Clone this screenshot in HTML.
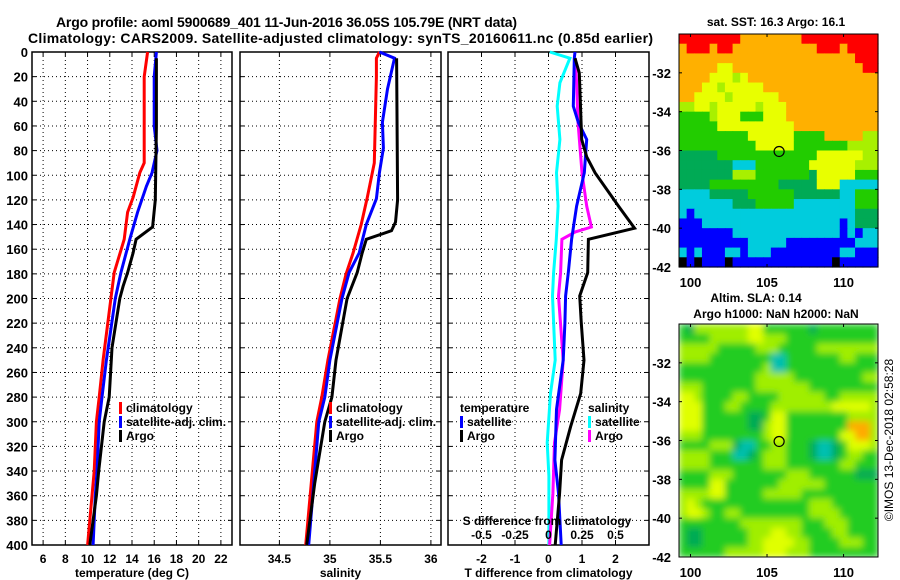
<!DOCTYPE html>
<html><head><meta charset="utf-8"><style>
body{margin:0;background:#fff;}
svg{display:block;font-family:"Liberation Sans",Arial,sans-serif;font-weight:bold;}
</style></head><body>
<svg id="c" width="900" height="580" viewBox="0 0 900 580">
<defs>
<filter id="blur" x="0" y="0" width="1" height="1"><feGaussianBlur stdDeviation="3.5" edgeMode="duplicate"/></filter>
<clipPath id="slaclip"><rect x="679" y="324" width="199" height="233"/></clipPath>
</defs>
</svg>
<script>
// ---------- data ----------
const depthTicks=[0,20,40,60,80,100,120,140,160,180,200,220,240,260,280,300,320,340,360,380,400];
const tempTicks=[6,8,10,12,14,16,18,20,22];
const salTicks=[34.5,35,35.5,36];
const tdiffTicks=[-2,-1,0,1,2];
const sdiffTicks=[-0.5,-0.25,0,0.25,0.5];
const sdiffLabels=["-0.5","-0.25","0","0.25","0.5"];
// temperature profiles [depth, value]
const tClimD=[0,20,60,90,98,118,130,152,179,200,250,280,300,340,360,400];
const tClimV=[15.4,15.1,15.1,15.1,14.7,14.1,13.6,13.3,12.4,12.1,11.4,11.05,10.8,10.6,10.4,10.0];
const tSatD=[0,20,60,80,98,109,130,152,179,200,250,280,300,340,360,400];
const tSatV=[16.2,16.0,16.0,16.25,15.8,15.3,14.5,13.8,13.0,12.5,11.7,11.3,11.05,10.85,10.7,10.5];
const tArgoD=[5,60,120,142,152,163,179,190,200,240,280,300,340,360,400];
const tArgoV=[16.2,16.2,16.1,15.85,14.37,14.1,13.6,13.2,12.9,12.2,11.95,11.5,11.0,10.8,10.2];
// salinity profiles
const sClimD=[0,5,20,90,118,140,163,180,200,250,280,300,400];
const sClimV=[35.49,35.46,35.46,35.44,35.37,35.31,35.23,35.16,35.1,34.98,34.92,34.87,34.76];
const sSatD=[0,5,30,57,78,98,119,140,163,179,200,250,280,300,400];
const sSatV=[35.49,35.64,35.57,35.52,35.53,35.49,35.46,35.36,35.29,35.19,35.12,35.0,34.95,34.89,34.79];
const sArgoD=[5,120,138,145,152,163,179,200,250,280,300,350,400];
const sArgoV=[35.66,35.67,35.65,35.61,35.36,35.32,35.27,35.17,35.06,35.02,34.95,34.85,34.77];
// differences (T diff in deg C, S diff in psu)
const dTSatD=[0,5,44,57,71,98,125,152,179,198,220,250,290,331,358,400];
const dTSatV=[0.79,0.77,0.74,0.89,1.14,1.07,0.84,0.69,0.59,0.51,0.49,0.44,0.24,0.19,0.3,0.38];
const dTArgoD=[5,17,71,85,98,125,143,152,179,198,220,250,277,304,331,358,400];
const dTArgoV=[0.79,0.92,0.99,1.14,1.39,2.09,2.57,1.19,1.17,0.93,0.98,1.06,0.96,0.66,0.39,0.33,0.2];
const dSSatD=[0,5,25,44,71,98,125,152,179,198,250,277,317,344,400];
const dSSatV=[0.01,0.16,0.085,0.065,0.085,0.06,0.072,0.058,0.038,0.03,0.05,0.015,-0.01,0.003,0.003];
const dSArgoD=[5,25,57,98,125,142,146,152,179,198,250,290,317,358,400];
const dSArgoV=[0.2,0.21,0.22,0.25,0.285,0.32,0.2,0.1,0.09,0.075,0.11,0.083,0.045,0.033,0.008];
// maps
const latTicks=[-32,-34,-36,-38,-40,-42];
const lonTicks=[100,105,110];
const sstRows=[
"RRRRRRRROOOOOOOORRRRRRRRRR","ORRRORROOOOOOOOOOORRRORRRR","OOOOOOOOOOOOOOOOOOOOOOORRR","OOOOOYYOOOOOOOOOOOOOOOOORR",
"OOOOYYYLYOOOOOOOOOOOOOOOOO","OOOYYLYYYYYOOOOOOOOOOOOOOO","OOYYYYLYYYYYYOOOOOOOOOOOOO","LLYYLYYYYYLYYYOOOOOOOOOOOO",
"GGGGLYYYGGGYYYOOOOOOOOOOOO","GGGGGYYYYYYYYYYOOOOOOOOOOO","GGGGGGGGGYYYYYYGGGGOOOOOLL","GGGGGGGGGGYYYYYGGGGGGGLLLL",
"DDDDDGGGGGGGGGGGGGYYYYYYLL","DDDDDDDCCCGGGGGGGYYYYYYLLL","DDDDDDDLLLGGGGGGGDYYYYYGGG","DDDDGGGGGGGGGDDDDDYYYCCCCC",
"CCCCDDDDDGGGGGGDDDDDDCCGGG","CCCCCCCDDDGGGGGCCCCCCCCGGG","CBCCCCCCCCCCCCCCCCCCCCCDDD","BBBCCCCCCCCCCCCCCCCCCBCDDD",
"BBBBBBBCCCCCCCCCCCCCCBCBCC","BBBBBBBBBCCCCCBBBBBBBBBCCC","CBCBBBCCBCCCBBBBBBBBBCCBBB","KBKBBBKBBBBBBBBBBBBBKBBBBB"];
const slaRows=[
"GDLLLLLLLYYGGGGGGDGGGGGGGG","GGGGLLLLLYYLLLGGGGGGGGGGGG","LLLLLGGGGGLLLGGGGGLLLLLLLL","LLLLGGGGGGGGTTGGGGGGGLLGGG",
"GGGGGGGGGGGLTTGGGGGGGGGGGG","GGGGGGGGGGLLLLLGGGGGGGGGLL","LLLGGGGGGGLLLLLLLGGGGGGGGG","YYLGGGGLLGGGGLLLLLLGGLLLLL",
"YYYGGGLLGGGGLLLLLLLLYYYYYL","YYYGGGGGGDDGYYGGGGGGGGLLLL","YYYGGGGGGDDLYYGGGGGGGGOOOL","LLLGGGGGGGGLYYGGGGGGGYYOOL",
"GGGGLLLDTTGGLLGGGDTTDGYYYL","LLLLGGGTTDGLLLGGGDTTDGLLGG","LLLLGGGGGGGLLLGGGGGGGLLGGG","GGGGLLLGGGGGGGLLLGGGGGGDDD",
"GGGGYYGGGGGGGLLLLLLGGGGGGG","LLLLYYGGGGGLLLLLGGGGGGGGGG","LYLGGGGGGGGGGGGGGLLLGGGGGG","LYYLGGLLGGGGGGGGGLLLLGGGGG",
"GGGGGGGGLLLLLLLLGGGLLLGGGG","GDDGGGGGGLLLYYLLGGGGLLGGGG","GDDGGGGGGLLYYYYLLGGGGLLLGG","GGGGGGLLLLLYYYLLLGGGGGGGGG"];
const sstColors={R:"#ff0000",O:"#ffb000",Y:"#e8ff00",L:"#a8f000",G:"#22cc00",D:"#00aa55",C:"#00ccdd",B:"#0000ff",K:"#000000"};
const slaColors={Y:"#e0ff00",L:"#a0ee00",G:"#22cc22",D:"#00aa55",T:"#00c0b0",O:"#ffaa00"};
const argoLon=105.79, argoLat=-36.05;

// ---------- drawing ----------
const NS="http://www.w3.org/2000/svg";
const svg=document.getElementById("c");
function mk(tag,attrs,parent){const e=document.createElementNS(NS,tag);for(const k in attrs)e.setAttribute(k,attrs[k]);(parent||svg).appendChild(e);return e;}
function txt(x,y,s,size,anchor,parent){const t=mk("text",{x:x,y:y,"font-size":size,"text-anchor":anchor||"middle",fill:"#000"},parent);t.textContent=s;return t;}

const PT=52,PB=545;
const yD=d=>PT+d/400*(PB-PT);

function panel(name,x0,x1,vmin,vmax,ticks,labels,title,showDepth){
  const g=mk("g",{});
  
  
  const xs=v=>x0+(v-vmin)/(vmax-vmin)*(x1-x0);
  depthTicks.forEach(d=>{
    const l=mk("line",{x1:x0,x2:x1,y1:yD(d),y2:yD(d),stroke:"#000","stroke-width":1,"stroke-dasharray":"1,3"},g);
    
    
    mk("line",{x1:x0,x2:x0+4,y1:yD(d),y2:yD(d),stroke:"#000"},g);
    mk("line",{x1:x1-4,x2:x1,y1:yD(d),y2:yD(d),stroke:"#000"},g);
    if(showDepth){const t=txt(x0-4,yD(d)+5,String(d),13,"end",g);
      
      }
  });
  ticks.forEach((v,i)=>{
    const l=mk("line",{x1:xs(v),x2:xs(v),y1:PT,y2:PB,stroke:"#000","stroke-dasharray":"1,3"},g);
    
    
    mk("line",{x1:xs(v),x2:xs(v),y1:PB-4,y2:PB,stroke:"#000"},g);
    mk("line",{x1:xs(v),x2:xs(v),y1:PT,y2:PT+4,stroke:"#000"},g);
    const t=txt(xs(v),PB+18,labels[i],12,"middle",g);
    
    
  });
  const f=mk("rect",{x:x0,y:PT,width:x1-x0,height:PB-PT,fill:"none",stroke:"#000","stroke-width":1.5},g);
  
  
  const t=txt((x0+x1)/2,PB+32,title,12,"middle",g);
  
  
  return {g,xs};
}
function line(p,name,D,V,color,scale){
  const pts=D.map((d,i)=>p.xs(V[i]*(scale||1)).toFixed(1)+","+yD(d).toFixed(1)).join(" ");
  const l=mk("polyline",{points:pts,fill:"none",stroke:color,"stroke-width":3},p.g);
  
  
}
function legend(p,name,x,y,items){
  const g=mk("g",{},p.g);
  
  
  items.forEach((it,i)=>{
    if(it[1]) mk("rect",{x:x,y:y+i*14-10,width:3,height:12,fill:it[1]},g);
    const t=txt(x+(it[1]?7:0),y+i*14,it[0],12,"start",g);
    
    
  });
}

const p1=panel("temperature-panel",32,232,5,23,tempTicks,tempTicks.map(String),"temperature (deg C)",true);
line(p1,"temp-climatology-line",tClimD,tClimV,"#ff0000");
line(p1,"temp-satellite-line",tSatD,tSatV,"#0000ff");
line(p1,"temp-argo-line",tArgoD,tArgoV,"#000000");
legend(p1,"temp-legend",119,412,[["climatology","#ff0000"],["satellite-adj. clim.","#0000ff"],["Argo","#000"]]);

const p2=panel("salinity-panel",240,441,34.11,36.1,salTicks,salTicks.map(String),"salinity",false);
line(p2,"sal-climatology-line",sClimD,sClimV,"#ff0000");
line(p2,"sal-satellite-line",sSatD,sSatV,"#0000ff");
line(p2,"sal-argo-line",sArgoD,sArgoV,"#000000");
legend(p2,"sal-legend",329,412,[["climatology","#ff0000"],["satellite-adj. clim.","#0000ff"],["Argo","#000"]]);

const p3=panel("difference-panel",448,649,-3,3,tdiffTicks,tdiffTicks.map(String),"T difference from climatology",false);
line(p3,"sdiff-satellite-line",dSSatD,dSSatV,"#00ffff",4);
line(p3,"sdiff-argo-line",dSArgoD,dSArgoV,"#ff00ff",4);
line(p3,"tdiff-satellite-line",dTSatD,dTSatV,"#0000ff");
line(p3,"tdiff-argo-line",dTArgoD,dTArgoV,"#000000");
legend(p3,"tdiff-legend",460,412,[["temperature",null],["satellite","#0000ff"],["Argo","#000"]]);
legend(p3,"sdiff-legend",588,412,[["salinity",null],["satellite","#00ffff"],["Argo","#ff00ff"]]);
const st=txt(547,525,"S difference from climatology",12,"middle",p3.g);


sdiffTicks.forEach((v,i)=>{const t=txt(p3.xs(v*4),539,sdiffLabels[i],12,"middle",p3.g);
  
  });

const t1=txt(56,27,"Argo profile: aoml 5900689_401 11-Jun-2016 36.05S 105.79E (NRT data)",14,"start");
t1.setAttribute('textLength',461);


const t2=txt(28,43,"Climatology: CARS2009. Satellite-adjusted climatology: synTS_20160611.nc (0.85d earlier)",14,"start");
t2.setAttribute('textLength',625);



function map(name,top,rows,colors,titles,smooth){
  const g=mk("g",{});
  
  
  const x0=679,x1=878,y0=top,y1=top+233;
  const lon0=99.25,lon1=112.25,lat0=-30,lat1=-42;
  const xs=v=>x0+(v-lon0)/(lon1-lon0)*(x1-x0);
  const ys=v=>y0+(v-lat0)/(lat1-lat0)*(y1-y0);
  const cg=mk("g",smooth?{"clip-path":"url(#slaclip)"}:{},g);
  const cells=mk("g",smooth?{filter:"url(#blur)"}:{},cg);
  rows.forEach((r,i)=>{[...r].forEach((ch,j)=>{
    const la=lat0-i*0.5, lo=lon0+j*0.5;
    const c=mk("rect",{x:xs(lo).toFixed(2),y:ys(la).toFixed(2),width:(xs(lo+0.5)-xs(lo)+0.6).toFixed(2),height:(ys(la-0.5)-ys(la)+0.6).toFixed(2),fill:colors[ch]},cells);
    
    
  });});
  const f=mk("rect",{x:x0,y:y0,width:x1-x0,height:y1-y0,fill:"none",stroke:"#000","stroke-width":1},g);
  
  
  latTicks.forEach(v=>{
    mk("line",{x1:x0,x2:x0+3,y1:ys(v),y2:ys(v),stroke:"#000"},g);
    mk("line",{x1:x1-3,x2:x1,y1:ys(v),y2:ys(v),stroke:"#000"},g);
    const t=txt(671,ys(v)+5,String(v),13,"end",g);
    
    
  });
  lonTicks.forEach(v=>{
    mk("line",{x1:xs(v),x2:xs(v),y1:y1-3,y2:y1,stroke:"#000"},g);
    mk("line",{x1:xs(v),x2:xs(v),y1:y0,y2:y0+3,stroke:"#000"},g);
    const t=txt(xs(v),y1+20,String(v),13,"middle",g);
    
    
  });
  const m=mk("circle",{cx:xs(argoLon),cy:ys(argoLat),r:5,fill:"none",stroke:"#000","stroke-width":1.2},g);
  
  
  titles.forEach(tt=>{const t=txt(tt[1],tt[2],tt[0],12,"middle",g);
    
    });
}
map("sst-map",34,sstRows,sstColors,[["sat. SST: 16.3 Argo: 16.1",776,26]],false);
map("sla-map",324,slaRows,slaColors,[["Altim. SLA: 0.14",756,302],["Argo h1000: NaN h2000: NaN",776,318]],true);
const cr=txt(0,0,"©IMOS 13-Dec-2018 02:58:28",12,"middle");
cr.setAttribute('font-weight','normal');
cr.setAttribute('transform','translate(893,440) rotate(-90)');


</script>
</body></html>
